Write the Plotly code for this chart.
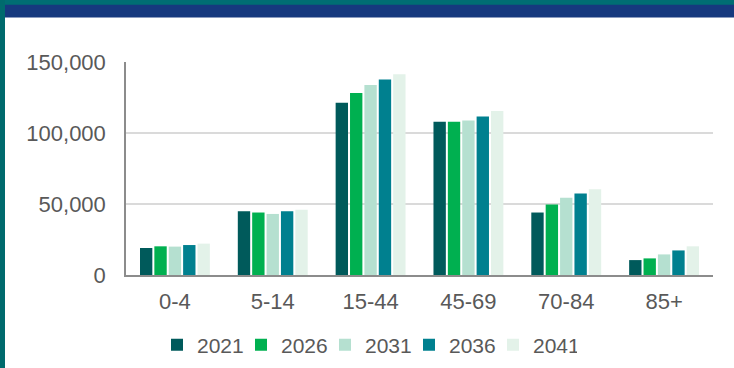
import plotly.graph_objects as go

# Population by age group, projected every five years
age_groups = ["0-4", "5-14", "15-44", "45-69", "70-84", "85+"]
years = ["2021", "2026", "2031", "2036", "2041"]

pop_2021 = [19000, 44900, 121300, 107900, 44000, 10500]
pop_2026 = [20200, 44000, 128200, 107900, 49700, 11700]
pop_2031 = [20000, 43000, 133800, 108800, 54400, 14500]
pop_2036 = [21100, 44900, 137600, 111700, 57400, 17300]
pop_2041 = [22100, 45900, 141400, 115500, 60300, 20200]

series = [pop_2021, pop_2026, pop_2031, pop_2036, pop_2041]
colors = ["#005A5B", "#00B050", "#B5E0D0", "#00808F", "#E3F2E9"]

y_ticks = [0, 50000, 100000, 150000]
y_tick_text = ["0", "50,000", "100,000", "150,000"]

W, H = 734, 368
ML, MR, MT, MB = 126, 21, 62, 93
PW, PH = W - ML - MR, H - MT - MB


def px_x(x):
    return (x - ML) / PW


def px_y(y):
    return (H - MB - y) / PH


fig = go.Figure()
for name, vals, col in zip(years, series, colors):
    fig.add_trace(go.Bar(
        name=name, x=age_groups, y=vals,
        marker=dict(color=col, line=dict(width=0)),
    ))

font_family = "Liberation Sans, Arial, sans-serif"
text_col = "#595959"

# Frame: teal strip and border, dark blue header band
shapes = [
    dict(type="rect", xref="paper", yref="paper", layer="below",
         x0=px_x(0), x1=px_x(W), y0=px_y(0), y1=px_y(5),
         fillcolor="#006E73", line=dict(width=0)),
    dict(type="rect", xref="paper", yref="paper", layer="below",
         x0=px_x(5), x1=px_x(W), y0=px_y(4.7), y1=px_y(17.5),
         fillcolor="#16397E", line=dict(width=0)),
    dict(type="rect", xref="paper", yref="paper", layer="below",
         x0=px_x(0), x1=px_x(5), y0=px_y(0), y1=px_y(H),
         fillcolor="#006A6D", line=dict(width=0)),
]

fig.update_layout(
    width=W, height=H,
    margin=dict(l=ML, r=MR, t=MT, b=MB, autoexpand=False),
    paper_bgcolor="white", plot_bgcolor="white",
    barmode="group", bargap=0.265, bargroupgap=0.14,
    font=dict(family=font_family, size=22, color=text_col),
    shapes=shapes,
    showlegend=True,
    legend=dict(
        orientation="h", x=px_x(157), xanchor="left", y=px_y(345), yanchor="middle",
        font=dict(size=21, color=text_col),
        entrywidth=39, entrywidthmode="pixels",
        itemclick=False, itemdoubleclick=False,
        bgcolor="rgba(0,0,0,0)",
    ),
    xaxis=dict(
        showline=True, linecolor="#8C8C8C", linewidth=1.5,
        showgrid=False, ticks="", tickfont=dict(size=22, color=text_col),
        ticklabelstandoff=6,
    ),
    yaxis=dict(
        range=[0, 150000], tickvals=y_ticks, ticktext=y_tick_text,
        showline=True, linecolor="#8C8C8C", linewidth=1.5,
        showgrid=True, gridcolor="#DADADA", gridwidth=1.5,
        zeroline=False, ticks="", tickfont=dict(size=22, color=text_col),
        ticklabelstandoff=14,
    ),
)

fig.write_html("out.html")
